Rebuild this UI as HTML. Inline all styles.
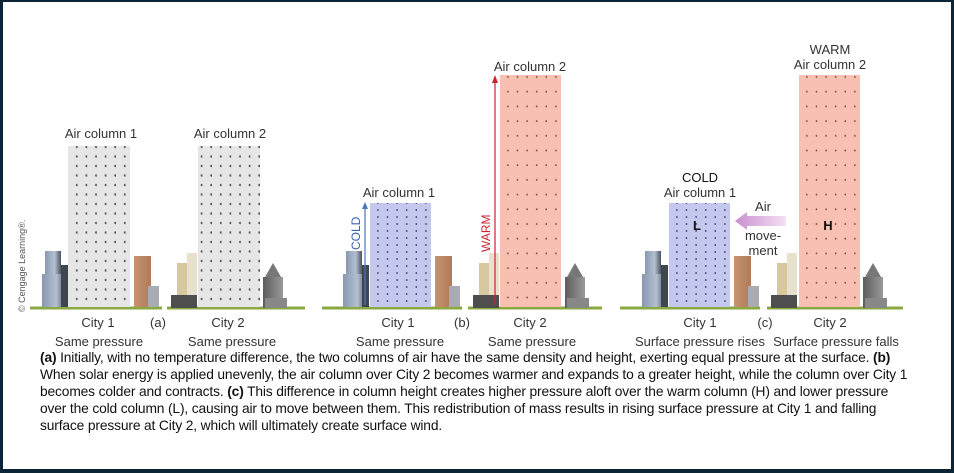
<!DOCTYPE html>
<html><head><meta charset="utf-8"><style>
html,body{margin:0;padding:0;background:#fff}
#wrap{position:relative;width:954px;height:473px;box-sizing:border-box;border-style:solid;border-color:#0b2537;border-width:2px 3px 4px 3px;background:#fff;overflow:hidden;font-family:"Liberation Sans",sans-serif}
svg text{font-family:"Liberation Sans",sans-serif}
.cap{position:absolute;left:37px;font-size:13.8px;color:#111;white-space:nowrap;font-family:"Liberation Sans",sans-serif;letter-spacing:-0.15px}
</style></head><body>
<div id="wrap">
<svg width="954" height="473" style="position:absolute;left:-3px;top:-2px">
<defs>
<pattern id="pg" x="68" y="142" width="9.6" height="9.5" patternUnits="userSpaceOnUse"><circle cx="9" cy="5" r="1.2" fill="#555"/></pattern>
<pattern id="pb" x="369" y="199" width="9.6" height="7" patternUnits="userSpaceOnUse"><circle cx="9" cy="4" r="1" fill="#4a4a7a"/></pattern>
<pattern id="pb2" x="668" y="199" width="9.6" height="7" patternUnits="userSpaceOnUse"><circle cx="9" cy="4" r="1" fill="#4a4a7a"/></pattern>
<pattern id="pp" x="499" y="70" width="9.6" height="14.7" patternUnits="userSpaceOnUse"><circle cx="9" cy="7" r="1" fill="#8a4a40"/></pattern>
<pattern id="pp2" x="798" y="70" width="9.6" height="14.7" patternUnits="userSpaceOnUse"><circle cx="9" cy="7" r="1" fill="#8a4a40"/></pattern>
<linearGradient id="sky" x1="0" x2="1"><stop offset="0" stop-color="#8898b0"/><stop offset=".6" stop-color="#b4c0d2"/><stop offset="1" stop-color="#4c5460"/></linearGradient>
<linearGradient id="org" x1="0" x2="1"><stop offset="0" stop-color="#c89470"/><stop offset="1" stop-color="#b07a58"/></linearGradient>
<linearGradient id="dk" x1="0" x2="1"><stop offset="0" stop-color="#5c5c5c"/><stop offset="1" stop-color="#9a9a9a"/></linearGradient>
<linearGradient id="arr" x1="0" x2="1"><stop offset="0" stop-color="#c890d0"/><stop offset="1" stop-color="#f4e0f4"/></linearGradient>
<g id="city1">
<rect x="0" y="0" width="16" height="56" fill="url(#sky)"/><rect x="-3" y="23" width="24" height="33" fill="url(#sky)"/><rect x="16" y="14" width="7" height="42" fill="#3e4650"/>
<rect x="89" y="5" width="17" height="51" fill="url(#org)"/><rect x="103" y="35" width="11" height="21" fill="#a8acb2"/>
</g>
<g id="city2">
<rect x="0" y="45" width="26" height="13" fill="#4e4e4e"/><rect x="6" y="13" width="12" height="32" fill="#d8c8a0"/><rect x="16" y="3" width="10" height="42" fill="#e6e0cc"/>
<rect x="92" y="27" width="20" height="31" fill="url(#dk)"/><polygon points="94,27 102,13 110,27" fill="#777"/><rect x="94" y="48" width="22" height="10" fill="#888"/>
</g>
</defs>
<g stroke="#8aaa40" stroke-width="3">
<line x1="30" y1="308" x2="162" y2="308"/><line x1="167" y1="308" x2="305" y2="308"/>
<line x1="322" y1="308" x2="462" y2="308"/><line x1="468" y1="308" x2="602" y2="308"/>
<line x1="620" y1="308" x2="760" y2="308"/><line x1="767" y1="308" x2="903" y2="308"/>
</g>
<rect x="68" y="146" width="62" height="161" fill="#e6e6e6"/>
<rect x="68" y="146" width="62" height="161" fill="url(#pg)"/>
<rect x="198" y="146" width="62" height="161" fill="#e6e6e6"/>
<rect x="198" y="146" width="62" height="161" fill="url(#pg)"/>
<use href="#city1" x="45" y="251"/><use href="#city2" x="171" y="250"/>
<rect x="370" y="203" width="61" height="104" fill="#c4c8ec"/>
<rect x="370" y="203" width="61" height="104" fill="url(#pb)"/>
<rect x="500" y="75" width="61" height="232" fill="#f8c0b0"/>
<rect x="500" y="75" width="61" height="232" fill="url(#pp)"/>
<use href="#city1" x="346" y="251"/><use href="#city2" x="473" y="250"/>
<line x1="365" y1="305" x2="365" y2="209" stroke="#4a78c0" stroke-width="1.2"/><polygon points="362,209 368,209 365,202" fill="#4a78c0"/>
<text x="360" y="250" transform="rotate(-90 360 250)" font-size="12" fill="#3a60b0">COLD</text>
<line x1="495" y1="305" x2="495" y2="82" stroke="#d02030" stroke-width="1.2"/><polygon points="492,83 498,83 495,75" fill="#d02030"/>
<text x="490" y="252" transform="rotate(-90 490 252)" font-size="12" fill="#d02030">WARM</text>
<rect x="669" y="203" width="61" height="104" fill="#c4c8ec"/>
<rect x="669" y="203" width="61" height="104" fill="url(#pb2)"/>
<rect x="799" y="75" width="61" height="232" fill="#f8c0b0"/>
<rect x="799" y="75" width="61" height="232" fill="url(#pp2)"/>
<use href="#city1" x="645" y="251"/><use href="#city2" x="771" y="250"/>
<polygon points="735,221 747,212 747,216 786,216 786,226 747,226 747,230" fill="url(#arr)"/>
<g font-size="13" fill="#333" text-anchor="middle">
<text x="101" y="138">Air column 1</text>
<text x="230" y="138">Air column 2</text>
<text x="399" y="197">Air column 1</text>
<text x="530" y="71">Air column 2</text>
<text x="700" y="182" fill="#111">COLD</text>
<text x="700" y="197">Air column 1</text>
<text x="830" y="54">WARM</text>
<text x="830" y="69">Air column 2</text>
<text x="763" y="211">Air</text>
<text x="763" y="240">move-</text>
<text x="763" y="255">ment</text>
<text x="697" y="230" font-weight="bold" fill="#111">L</text>
<text x="828" y="230" font-weight="bold" fill="#111">H</text>
<text x="98" y="327">City 1</text>
<text x="158" y="327">(a)</text>
<text x="228" y="327">City 2</text>
<text x="99" y="346">Same pressure</text>
<text x="232" y="346">Same pressure</text>
<text x="398" y="327">City 1</text>
<text x="462" y="327">(b)</text>
<text x="530" y="327">City 2</text>
<text x="400" y="346">Same pressure</text>
<text x="532" y="346">Same pressure</text>
<text x="700" y="327">City 1</text>
<text x="765" y="327">(c)</text>
<text x="830" y="327">City 2</text>
<text x="700" y="346">Surface pressure rises</text>
<text x="836" y="346">Surface pressure falls</text>
</g>
<text x="25" y="312" transform="rotate(-90 25 312)" font-size="9" fill="#555">© Cengage Learning®.</text>
</svg>
<div>
<div class="cap" style="top:348px"><b>(a)</b> Initially, with no temperature difference, the two columns of air have the same density and height, exerting equal pressure at the surface. <b>(b)</b></div>
<div class="cap" style="top:365px">When solar energy is applied unevenly, the air column over City 2 becomes warmer and expands to a greater height, while the column over City 1</div>
<div class="cap" style="top:382px">becomes colder and contracts. <b>(c)</b> This difference in column height creates higher pressure aloft over the warm column (H) and lower pressure</div>
<div class="cap" style="top:399px">over the cold column (L), causing air to move between them. This redistribution of mass results in rising surface pressure at City 1 and falling</div>
<div class="cap" style="top:416px">surface pressure at City 2, which will ultimately create surface wind.</div>
</div>
</div>
</body></html>
